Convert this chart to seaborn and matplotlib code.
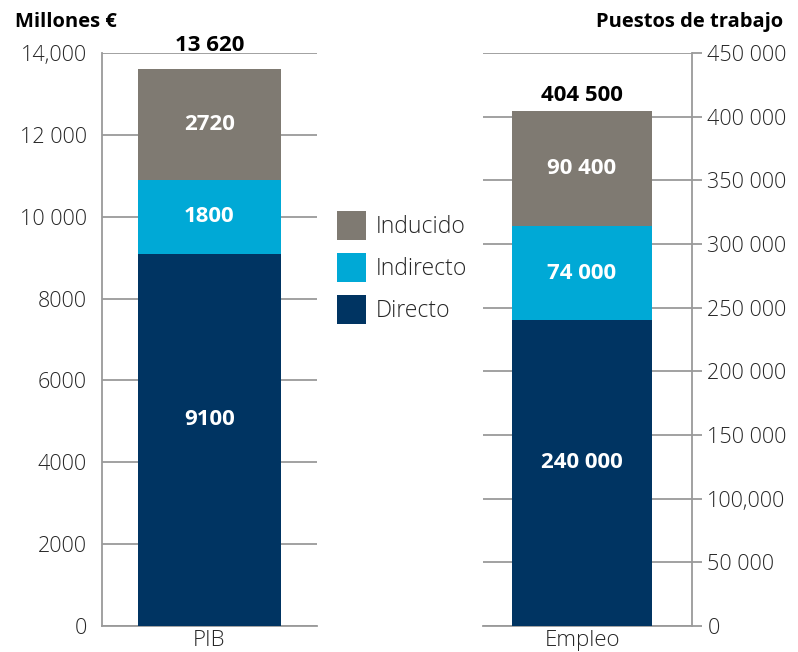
import seaborn as sns
import matplotlib.pyplot as plt
import pandas as pd
from matplotlib.patches import Patch

# Datos
componentes = ['Directo', 'Indirecto', 'Inducido']
pib_valores = [9100, 1800, 2720]
empleo_valores = [240000, 74000, 90400]
pib_etiquetas = ['9100', '1800', '2720']
empleo_etiquetas = ['240 000', '74 000', '90 400']
totales = ['13 620', '404 500']
categorias = ['PIB', 'Empleo']

pib_ticks = [0, 2000, 4000, 6000, 8000, 10000, 12000, 14000]
pib_tick_labels = ['0', '2000', '4000', '6000', '8000', '10 000', '12 000', '14,000']
empleo_ticks = [0, 50000, 100000, 150000, 200000, 250000, 300000, 350000, 400000, 450000]
empleo_tick_labels = ['0', '50 000', '100,000', '150 000', '200 000', '250 000',
                      '300 000', '350 000', '400 000', '450 000']

colores = {'Directo': '#003462', 'Indirecto': '#00a9d6', 'Inducido': '#7f7a72'}
gris = '#9a9a9a'
texto = '#262626'

sns.set_style('white')
plt.rcParams['font.family'] = ['Open Sans', 'DejaVu Sans']

fig = plt.figure(figsize=(7.98, 6.52), dpi=100)
ax_pib = fig.add_axes([0.1278, 0.0399, 0.2694, 0.8788])
ax_emp = fig.add_axes([0.6053, 0.0399, 0.2619, 0.8788])


def dibujar_barra(ax, categoria, valores, etiquetas, total, ylim, ticks, tick_labels,
                  xlim, pos_etiqueta, sep_total):
    # barras apiladas: se dibujan las sumas acumuladas de mayor a menor
    acumulados = pd.Series(valores, index=componentes).cumsum()
    for comp in reversed(componentes):
        df = pd.DataFrame({'cat': [categoria], 'valor': [acumulados[comp]]})
        sns.barplot(data=df, x='cat', y='valor', color=colores[comp], width=1.0,
                    linewidth=0, saturation=1, ax=ax, zorder=3)

    bases = [0] + list(acumulados.values[:-1])
    for base, v, lab, f in zip(bases, valores, etiquetas, pos_etiqueta):
        ax.text(0, base + v * f, lab, ha='center', va='center', color='white',
                fontsize=16, fontweight='bold', zorder=4)
    ax.text(0, acumulados.iloc[-1] + ylim[1] * sep_total, total, ha='center', va='bottom',
            color='black', fontsize=16, fontweight='bold', zorder=4)

    ax.set_xlim(*xlim)
    ax.set_ylim(*ylim)
    ax.set_yticks(ticks)
    ax.set_yticklabels(tick_labels, fontsize=15.5, color=texto, fontweight='light')
    ax.set_xticks([0])
    ax.set_xticklabels([categoria], fontsize=16, color=texto, fontweight='light')
    ax.set_xticks(list(xlim), minor=True)
    ax.tick_params(axis='x', which='major', length=0, pad=3)
    ax.tick_params(axis='x', which='minor', length=7, width=1.3, color=gris, direction='out')
    ax.tick_params(axis='y', length=7, width=1.3, color=gris, pad=4)
    ax.set_xlabel('')
    ax.set_ylabel('')
    ax.grid(axis='y', color=gris, linewidth=1.3, zorder=0)
    ax.set_axisbelow(True)
    for s in ax.spines.values():
        s.set_color(gris)
        s.set_linewidth(1.3)
    ax.spines['top'].set_visible(False)


dibujar_barra(ax_pib, categorias[0], pib_valores, pib_etiquetas, totales[0],
              (0, 14000), pib_ticks, pib_tick_labels, (-0.75, 0.75),
              [0.555, 0.5, 0.5], 0.022)
ax_pib.spines['right'].set_visible(False)

dibujar_barra(ax_emp, categorias[1], empleo_valores, empleo_etiquetas, totales[1],
              (0, 450000), empleo_ticks, empleo_tick_labels, (-0.708, 0.787),
              [0.535, 0.5, 0.5], 0.008)
ax_emp.spines['left'].set_visible(False)
ax_emp.yaxis.tick_right()
ax_emp.tick_params(axis='y', length=7, width=1.3, color=gris, pad=4)

fig.text(0.019, 0.967, 'Millones €', ha='left', va='center', fontsize=14.5,
         fontweight='bold', color='black')
fig.text(0.981, 0.967, 'Puestos de trabajo', ha='right', va='center', fontsize=14.5,
         fontweight='bold', color='black')

handles = [Patch(facecolor=colores[c], edgecolor='none', label=c) for c in reversed(componentes)]
fig.legend(handles=handles, loc='upper left', bbox_to_anchor=(337 / 798, 1 - 211 / 652),
           frameon=False, handlelength=1.27, handleheight=1.57,
           handletextpad=0.4, labelspacing=0.57, borderpad=0, borderaxespad=0,
           labelcolor=texto, prop={'weight': 'light', 'size': 16.5})

fig.savefig('out.png', dpi=100)
